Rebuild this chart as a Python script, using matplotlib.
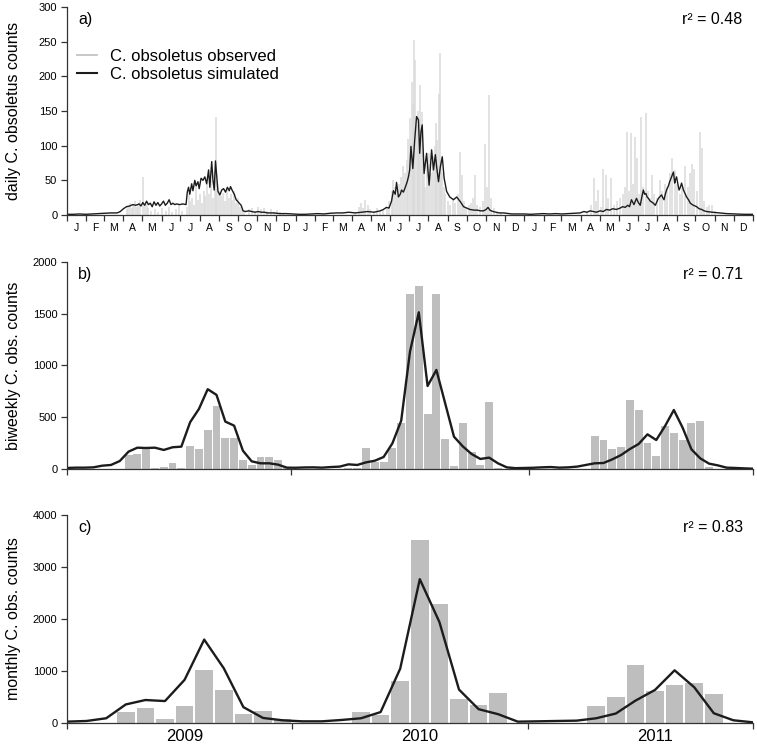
import matplotlib
matplotlib.use("Agg")
import matplotlib.pyplot as plt
from matplotlib.lines import Line2D
import numpy as np

plt.rcParams['font.family'] = ['Liberation Sans', 'DejaVu Sans']

# ---------------- data ----------------
# panel a: daily (day index since 1 Jan 2009)
obs_days = [95, 98, 100, 103, 106, 108, 111, 114, 117, 121, 124, 127, 130, 134, 140, 146, 152, 158, 163, 168,
            174, 178, 184, 192, 195, 197, 200, 203, 206, 209, 212, 215, 218, 221, 224, 227, 230, 233, 236, 238,
            240, 243, 246, 249, 252, 255, 258, 261, 264, 267, 270, 273, 276, 279, 283, 290, 295, 300, 305, 310,
            315, 320, 325, 330, 335, 340, 345,
            460, 466, 470, 473, 476, 480, 484, 490, 495, 500, 505, 510, 514, 518, 521, 524, 527, 530, 533, 536,
            539, 542, 545, 548, 550, 552, 554, 556, 558, 560, 562, 564, 566, 568, 570, 572, 575, 578, 581, 584,
            587, 589, 591, 593, 595, 597, 599, 601, 604, 608, 612, 616, 620, 624, 627, 630, 633, 637, 641, 645,
            648, 651, 655, 660, 664, 668, 671, 674, 677, 681, 686, 692,
            830, 837, 841, 844, 848, 852, 856, 860, 864, 869, 873, 878, 883, 888, 891, 894, 897, 900, 903, 907,
            910, 913, 916, 919, 924, 927, 930, 933, 937, 941, 946, 950, 954, 958, 962, 966, 970, 974, 978, 982,
            987, 991, 995, 998, 1001, 1005, 1010, 1013, 1017, 1021, 1025, 1029, 1034]
obs_vals = [8, 12, 18, 10, 15, 20, 12, 16, 22, 55, 14, 18, 10, 6, 8, 5, 10, 6, 12, 4,
            8, 14, 6, 12, 30, 20, 25, 15, 40, 22, 30, 18, 35, 28, 45, 30, 50, 25, 60, 141,
            45, 35, 28, 32, 20, 38, 25, 30, 22, 35, 18, 25, 12, 8, 5, 8, 10, 6, 12, 8,
            10, 6, 9, 5, 7, 4, 3,
            5, 12, 18, 10, 22, 15, 8, 6, 10, 5, 8, 12, 20, 35, 50, 40, 30, 45, 55, 70,
            60, 80, 110, 140, 192, 160, 252, 223, 130, 150, 110, 187, 149, 90, 60, 40, 70, 90, 60, 85,
            100, 132, 108, 175, 233, 80, 60, 40, 30, 20, 15, 25, 18, 30, 91, 58, 20, 12, 15, 18,
            25, 58, 15, 12, 20, 103, 40, 173, 25, 10, 5, 3,
            5, 15, 53, 20, 36, 12, 67, 58, 25, 53, 15, 20, 25, 30, 40, 120, 35, 118, 45, 113,
            82, 30, 142, 40, 147, 35, 25, 58, 30, 25, 50, 35, 45, 40, 60, 82, 65, 45, 30, 40,
            71, 40, 60, 74, 67, 35, 119, 96, 20, 12, 14, 14, 6]

sim_days = [0, 10, 20, 30, 40, 50, 60, 70, 80, 85, 90, 95, 100, 105, 110, 115, 118, 121, 124, 127,
            130, 133, 136, 139, 142, 145, 148, 151, 154, 157, 160, 163, 166, 169, 172, 175, 180, 185, 190, 192,
            194, 196, 199, 201, 204, 206, 209, 211, 214, 217, 220, 223, 226, 228, 231, 233, 235, 237, 239, 241,
            244, 247, 250, 253, 256, 259, 261, 264, 267, 270, 274, 278, 281, 285, 290, 295, 300, 305, 310, 315,
            320, 330, 340, 350, 360,
            370, 380, 390, 400, 410, 420, 430, 440, 450, 460, 470, 480, 490, 500, 505, 510, 514, 518, 521, 524,
            526, 529, 532, 534, 537, 540, 543, 545, 547, 549, 552, 555, 558, 561, 563, 565, 567, 570, 574, 578,
            582, 585, 588, 590, 593, 596, 599, 602, 606, 611, 617, 622, 628, 633, 638, 643, 650, 655, 660, 665,
            669, 672, 675, 680, 685, 690, 697, 710, 720,
            730, 740, 750, 760, 770, 780, 790, 800, 810, 819, 825, 830, 835, 840, 845, 851, 856, 861, 866, 871,
            877, 883, 887, 891, 895, 898, 901, 905, 909, 912, 915, 918, 920, 922, 924, 926, 928, 931, 933, 936,
            939, 942, 944, 947, 949, 951, 953, 955, 957, 960, 962, 965, 968, 970, 971, 973, 975, 977, 979, 981,
            984, 987, 989, 992, 995, 998, 1000, 1005, 1009, 1013, 1017, 1021, 1030, 1042, 1053, 1065, 1080, 1094]
sim_vals = [1, 1, 1.5, 1, 1.5, 2, 2.5, 3, 3, 5, 9, 12, 13, 15, 14, 16, 13, 18, 14, 20,
            15, 17, 12, 19, 14, 18, 13, 16, 20, 14, 17, 22, 15, 17, 15, 16, 15, 16, 15, 33,
            40, 30, 45, 35, 50, 42, 48, 38, 53, 50, 55, 45, 65, 40, 77, 50, 36, 78, 55, 34,
            29, 36, 38, 33, 40, 35, 41, 35, 30, 22, 18, 14, 6, 5, 6, 5, 4, 5, 4, 4,
            3, 3, 2, 2, 1.5,
            1, 1, 1.5, 2, 1.5, 2.5, 3, 3, 4, 3, 4, 5, 4, 6, 8, 11, 10, 20, 35, 30,
            47, 26, 30, 36, 33, 40, 48, 55, 65, 99, 67, 108, 142, 137, 89, 120, 130, 60, 89, 43,
            94, 65, 87, 70, 48, 70, 84, 53, 34, 26, 22, 26, 19, 12, 10, 8, 7, 7, 6, 6,
            8, 11, 7, 5, 4, 3, 3, 1.5, 1.5,
            1.5, 1, 1.5, 2, 1.5, 2, 1.5, 2, 2.5, 3, 5, 4, 6, 5, 4, 6, 5, 8, 7, 9,
            8, 10, 12, 11, 14, 12, 22, 15, 24, 18, 14, 28, 36, 30, 31, 26, 24, 20, 19, 17,
            14, 20, 24, 27, 29, 25, 22, 30, 36, 42, 48, 55, 62, 46, 50, 55, 45, 36, 40, 46,
            36, 30, 26, 22, 17, 15, 14, 12, 9, 8, 6, 5, 4, 3, 2, 1.5, 1, 1]

month_starts = [0, 31, 59, 90, 120, 151, 181, 212, 243, 273, 304, 334]
month_letters = ['J', 'F', 'M', 'A', 'M', 'J', 'J', 'A', 'S', 'O', 'N', 'D']

# panel b: biweekly totals (79 periods)
obs_biweekly = [0, 0, 0, 0, 0, 0, 0, 140, 145, 194, 10, 16, 58, 6, 226, 197, 374, 606, 303, 303,
                90, 39, 113, 113, 90, 5, 0, 0, 0, 0, 0, 0, 5, 10, 200, 65, 64, 203, 444, 1688,
                1771, 531, 1688, 290, 32, 441, 164, 35, 647, 13, 3, 0, 0, 0, 0, 0, 0, 0, 0, 0,
                319, 280, 196, 209, 667, 567, 248, 126, 415, 345, 283, 448, 464, 15, 0, 0, 0, 0, 0]
sim_biweekly = [10, 13, 13, 16, 32, 39, 77, 168, 206, 203, 206, 184, 210, 216, 452, 580, 771, 716, 458, 419,
                177, 74, 55, 55, 42, 13, 12, 15, 16, 13, 19, 23, 45, 39, 64, 80, 116, 248, 467, 1134,
                1514, 802, 957, 634, 312, 219, 145, 97, 110, 55, 16, 8, 10, 12, 16, 19, 13, 16, 23, 39,
                55, 58, 93, 135, 193, 242, 335, 280, 415, 570, 399, 190, 103, 52, 35, 13, 10, 6, 3]

# panel c: monthly totals (36 months)
obs_monthly = [0, 0, 0, 208, 279, 78, 318, 1013, 643, 175, 240, 80,
               0, 0, 0, 208, 156, 812, 3526, 2279, 468, 351, 571, 0,
               0, 0, 0, 325, 500, 1123, 623, 740, 773, 565, 0, 0]
sim_monthly = [26, 39, 91, 357, 442, 422, 831, 1604, 1052, 305, 97, 52,
               32, 32, 58, 91, 210, 1045, 2766, 1942, 643, 266, 169, 26,
               32, 39, 45, 91, 182, 429, 636, 1013, 688, 188, 52, 13]

years = ['2009', '2010', '2011']
r2_labels = ['r\u00b2 = 0.48', 'r\u00b2 = 0.71', 'r\u00b2 = 0.83']
ylabels = ['daily C. obsoletus counts', 'biweekly C. obs. counts', 'monthly C. obs. counts']

# ---------------- figure ----------------
W, H = 757, 748
fig = plt.figure(figsize=(W / 100, H / 100), dpi=100)

def ax_at(x0, y_top, x1, y_bot):
    return fig.add_axes([x0 / W, 1 - y_bot / H, (x1 - x0) / W, (y_bot - y_top) / H])

axa = ax_at(67, 7, 753, 215)
axb = ax_at(67, 262, 753, 469)
axc = ax_at(67, 515, 753, 723)

line_col = '#1c1c1c'
bar_col = '#bebebe'
spike_col = '#dadada'
tick_fs = 8
lab_fs = 11.5

for ax in (axa, axb, axc):
    for s in ('top', 'right'):
        ax.spines[s].set_visible(False)
    for s in ('left', 'bottom'):
        ax.spines[s].set_color('#333333')
        ax.spines[s].set_linewidth(0.9)
    ax.tick_params(axis='both', which='major', direction='out', length=4, width=0.9,
                   color='#333333', labelsize=tick_fs, pad=3)
    ax.tick_params(axis='x', which='minor', length=0)

# panel a
axa.vlines(obs_days, 0, obs_vals, color=spike_col, lw=1.1, zorder=1)
axa.plot(sim_days, sim_vals, color=line_col, lw=1.0, zorder=2)
axa.set_xlim(0, 1095)
axa.set_ylim(0, 300)
axa.set_yticks([0, 50, 100, 150, 200, 250, 300])
all_starts = [y * 365 + m for y in range(3) for m in month_starts] + [1095]
axa.set_xticks(all_starts)
axa.set_xticklabels([])
mids = [(all_starts[i] + all_starts[i + 1]) / 2 for i in range(36)]
axa.set_xticks(mids, minor=True)
axa.set_xticklabels(month_letters * 3, minor=True, fontsize=7.5)
axa.tick_params(axis='x', which='minor', pad=6)
leg_handles = [Line2D([], [], color='#c4c4c4', lw=1.3), Line2D([], [], color=line_col, lw=1.5)]
axa.legend(leg_handles, ['C. obsoletus observed', 'C. obsoletus simulated'], loc='upper left',
           bbox_to_anchor=(0.014, 0.80), frameon=False, fontsize=12, handlelength=1.2,
           handletextpad=0.8, labelspacing=0.18, borderpad=0, borderaxespad=0)

# panel b
nb = len(obs_biweekly)
xb = np.arange(nb)
axb.bar(xb, obs_biweekly, width=0.9, color=bar_col, edgecolor='none', zorder=1)
axb.plot(xb, sim_biweekly, color=line_col, lw=1.7, zorder=2)
axb.set_xlim(0, nb - 1)
axb.set_ylim(0, 2000)
axb.set_yticks([0, 500, 1000, 1500, 2000])
axb.set_xticks([0, 25.5, 52.5, nb - 1])
axb.set_xticklabels([])

# panel c
nc = len(obs_monthly)
xc = np.arange(nc)
axc.bar(xc, obs_monthly, width=0.9, color=bar_col, edgecolor='none', zorder=1)
axc.plot(xc, sim_monthly, color=line_col, lw=1.7, zorder=2)
axc.set_xlim(0, nc - 1)
axc.set_ylim(0, 4000)
axc.set_yticks([0, 1000, 2000, 3000, 4000])
axc.set_xticks([0, 11.5, 23.5, nc - 1])
axc.set_xticklabels([])
axc.set_xticks([6, 18, 30], minor=True)
axc.set_xticklabels(years, minor=True, fontsize=12)
axc.tick_params(axis='x', which='minor', pad=4)

for ax, tag, r2, yl in zip((axa, axb, axc), ['a)', 'b)', 'c)'], r2_labels, ylabels):
    ax.text(0.016, 0.94, tag, transform=ax.transAxes, ha='left', va='center', fontsize=11.5)
    ax.text(0.985, 0.94, r2, transform=ax.transAxes, ha='right', va='center', fontsize=11.5)
    pos = ax.get_position()
    fig.text(14 / W, pos.y0 + pos.height / 2, yl, rotation=90, ha='center', va='center', fontsize=lab_fs)

fig.savefig('out.png', dpi=100)
